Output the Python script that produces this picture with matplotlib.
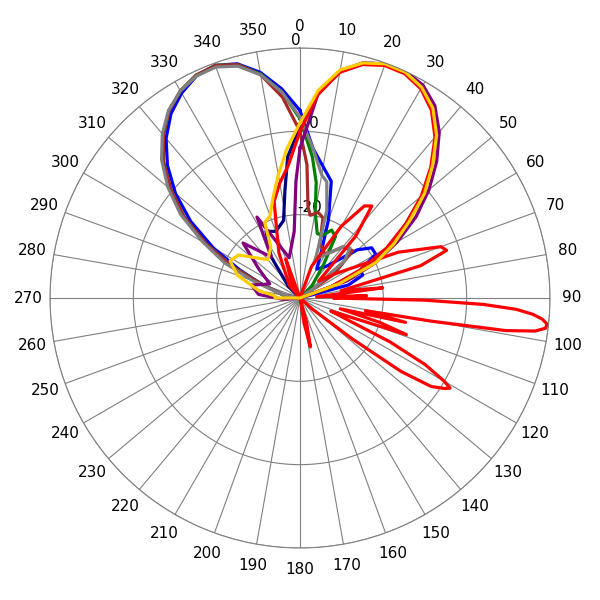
import numpy as np
import matplotlib
matplotlib.use("Agg")
import matplotlib.pyplot as plt

RMIN = -30

blue_ang = [270,280,290,295,300,305,310,315,320,325,330,335,340,345,350,355,0,5,10,15,20,25,30,40,50,55,60,65,70,75,80,90,180]
blue_val = [-30,-28,-25,-22,-18,-14,-10.5,-7.5,-5,-3,-1.6,-0.6,-0.3,-0.9,-2.5,-4.8,-7.5,-12,-14,-15.5,-20,-24,-26,-25,-21,-19.5,-19.5,-22,-22,-24,-30,-30,-30]

green_ang = [270,280,290,295,300,305,310,315,320,325,330,335,340,345,350,355,0,5,8,10,15,20,25,30,35,45,60,180]
green_val = [-30,-28,-25,-21,-17,-13,-9.8,-6.8,-4.5,-2.6,-1.3,-0.5,-0.3,-1,-2.7,-5.2,-8.5,-13,-16,-19.5,-22,-22,-21,-21.5,-25,-28,-30,-30]

brown_ang = [270,280,290,295,300,305,310,315,320,325,330,335,340,345,350,355,0,3,5,7,12,16,20,30,40,48,55,60,180]
brown_val = [-30,-28,-25,-21,-17,-13,-9.8,-6.8,-4.5,-2.6,-1.3,-0.5,-0.3,-1,-2.8,-5.8,-10,-14,-19,-20,-19.5,-20,-23,-24,-22,-21.5,-25,-30,-30]

gray_ang = [270,280,290,295,300,305,310,315,320,325,330,335,340,345,350,355,0,5,10,13,17,22,30,40,45,50,55,60,180]
gray_val = [-30,-28,-24,-20,-16.5,-12.5,-9.3,-6.5,-4.3,-2.5,-1.3,-0.6,-0.5,-1.2,-2.8,-5.2,-8.3,-12,-15,-15.7,-19,-25,-24,-22,-21.5,-23,-28,-30,-30]

navy_ang = [300,315,325,333,340,348,352,355,0,5,10,15,20,25,30,35,40,45,50,55,60,65,70,80,180]
navy_val = [-30,-28,-24,-21,-21.5,-20.5,-17,-13,-9.5,-5.2,-2.3,-0.8,-0.1,-0.1,-0.8,-2.2,-4.5,-7.6,-10.8,-14.5,-17.8,-21,-26,-30,-30]

purple_ang = [265,275,285,295,305,314,325,332,345,355,358,0,5,10,15,20,25,30,35,40,45,50,55,60,65,70,80,180]
purple_val = [-28,-25,-24,-26,-24,-20.5,-24,-19,-25,-22,-16,-12,-5.5,-2.4,-0.8,-0.1,0,-0.5,-1.8,-4,-6.8,-9.8,-13,-16.5,-20,-24,-30,-30]

red_ang = [270,320,335,340,345,350,355,0,5,10,15,20,25,30,35,40,45,50,55,60,65,70,80,180]
red_val = [-30,-28,-24,-22,-18,-16,-14,-10,-5.5,-2.5,-1,-0.3,-0.3,-1,-2.5,-4.8,-7.8,-11,-14.5,-18,-22,-26,-30,-30]

red2_ang = [0,20,30,35,38,42,48,55,65,70,72,75,80,83,86,88,90,91,92,93,94,95,96,97,98,99,100,101,103,105,107,109,111,113,116,118,120,121,122,124,126,128,132,150,165,168,171,180,330,340,360]
red2_val = [-30,-26,-20,-16.5,-16,-20,-27,-25,-17,-12,-11.5,-15,-25,-20,-28,-22,-26,-15,-8,-4,-2,-0.8,-0.2,-0.3,-1.5,-5,-14,-22,-17,-25,-20,-16.5,-24,-26,-18,-13,-10,-9,-9.5,-11,-15,-22,-28,-30,-27,-24,-27,-30,-28,-25,-30]

yellow_ang = [260,270,275,280,290,298,305,320,330,335,340,345,350,355,0,5,10,15,20,25,30,35,40,45,50,55,60,65,70,80,180]
yellow_val = [-30,-27,-27,-25,-22,-20.5,-21,-24,-23,-20,-19.5,-17.5,-15,-12,-9,-5,-2.2,-0.8,-0.1,-0.1,-0.8,-2.2,-4.5,-7.5,-10.5,-14,-17,-20,-25,-30,-30]

series = [
    (blue_ang, blue_val, "#0000FF"),
    (green_ang, green_val, "#008000"),
    (brown_ang, brown_val, "#A52A2A"),
    (navy_ang, navy_val, "#000080"),
    (gray_ang, gray_val, "#808080"),
    (purple_ang, purple_val, "#800080"),
    (red_ang, red_val, "#FF0000"),
    (red2_ang, red2_val, "#FF0000"),
    (yellow_ang, yellow_val, "#FFCC00"),
]

fig = plt.figure(figsize=(6, 6), dpi=100)
ax = fig.add_axes([50/600, 52/600, 500/600, 500/600], projection="polar")
ax.set_theta_zero_location("N")
ax.set_theta_direction(-1)
ax.set_ylim(RMIN, 0)

for ang, val, col in series:
    a = np.array(ang, dtype=float)
    v = np.clip(np.array(val, dtype=float), RMIN, 0)
    order = np.argsort(a % 360)
    a = np.deg2rad(a[order] % 360)
    v = v[order]
    a = np.append(a, a[0] + 2*np.pi)
    v = np.append(v, v[0])
    ax.plot(a, v, color=col, lw=2.3)

ax.set_thetagrids(np.arange(0, 360, 10), [str(d) for d in range(0, 360, 10)], fontsize=11)
ax.tick_params(axis="x", pad=5)
ax.set_rgrids([-20, -10, 0], ["-20", "-10", "0"], fontsize=11)
ax.set_rlabel_position(-2)
ax.grid(color="#808080", lw=0.8)
ax.spines["polar"].set_color("#808080")
ax.spines["polar"].set_linewidth(0.8)
fig.savefig("out.png", dpi=100)
